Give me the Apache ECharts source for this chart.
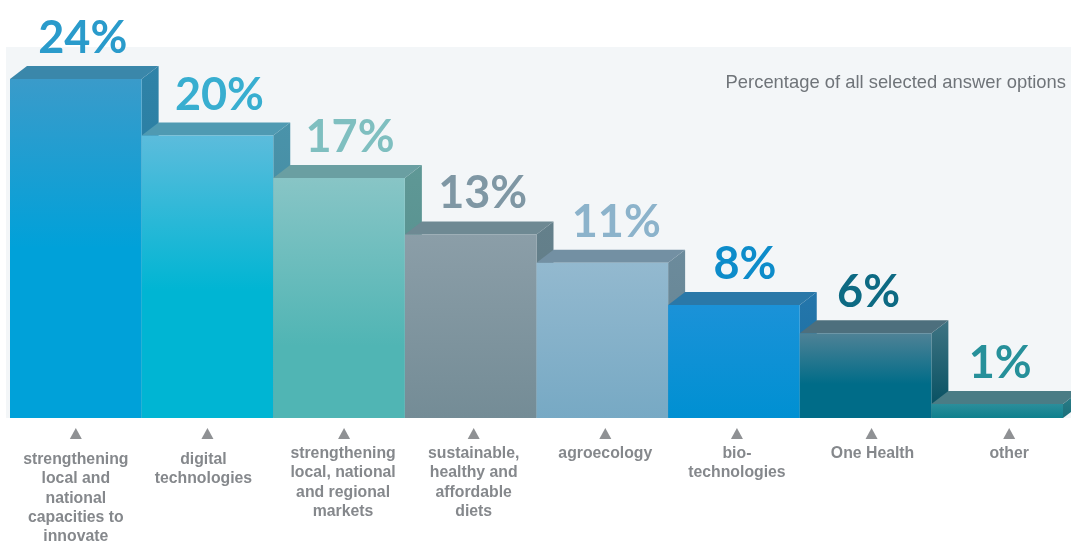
<!DOCTYPE html>
<html><head><meta charset="utf-8">
<style>html,body{margin:0;padding:0;background:#fff}#c{width:1071px;height:543px}</style>
<script src="https://cdn.jsdelivr.net/npm/echarts@6/dist/echarts.min.js"></script>
</head><body><div id="c"></div>
<script>
const categories = ['strengthening\nlocal and\nnational\ncapacities to\ninnovate','digital\ntechnologies','strengthening\nlocal, national\nand regional\nmarkets','sustainable,\nhealthy and\naffordable\ndiets','agroecology','bio-\ntechnologies','One Health','other'];
const values = [24,20,17,13,11,8,6,1];
const note = 'Percentage of all selected answer options';

// styling, kept apart from the data
const frontTop = ['#3a9bca','#5cbcdc','#88c5c6','#8b9ea8','#93b9cf','#1b92d8','#4f8296','#2b8e9b'];
const frontBot = ['#00a1d9','#00b5d3','#50b5b4','#748c96','#77a9c4','#0090d2','#006c88','#0f808d'];
const gradStop = [0.5,0.55,0.7,1,1,1,0.6,1];
const topFace  = ['#3a87aa','#4f9ab2','#6a9fa2','#6e8993','#7390a3','#2a78a8','#4d6f7d','#4a7c85'];
const sideTop  = ['#2f83a8','#4a93aa','#5f9896','#64808b','#6c8b9c','#2476ab','#3f7483','#2f7f8a'];
const sideBot  = ['#1f7296','#3d8398','#4f8a88','#607a85','#64838f','#1a6da0','#004c5e','#1a6f7a'];
const textCol  = ['#2a9bcb','#38aed0','#7fbfc0','#7f97a4','#8cb3cb','#0d8cca','#0d6a83','#26909a'];
const valDx = [7,12,11,12,14,11,3,3];       // value label nudge from the bar centre
const tickDx = [0,0,5,3,3,3,6,12];          // marker nudge
const labDx = [0,-4,4,3,3,3,7,12];          // category label nudge
const labY = [450,450,444,444,444,444,444,444]; // top of each category label
const depthX = 17, depthY = 13;

function renderBar(params, api) {
  const i = params.dataIndex;
  const p = api.coord([i, api.value(1)]);
  const base = api.coord([i, 0]);
  const w = api.size([1, 0])[0];
  const l = p[0] - w / 2, r = p[0] + w / 2, t = p[1], b = base[1];
  const grad = (a, c, s) => new echarts.graphic.LinearGradient(0, 0, 0, 1, [{offset:0,color:a},{offset:s,color:c},{offset:1,color:c}]);
  return { type: 'group', children: [
    { type:'polygon', shape:{points:[[r,t],[r+depthX,t-depthY],[r+depthX,b-depthY],[r,b]]}, style:{fill:grad(sideTop[i],sideBot[i],1)} },
    { type:'polygon', shape:{points:[[l,t],[l+depthX,t-depthY],[r+depthX,t-depthY],[r,t]]}, style:{fill:topFace[i]} },
    { type:'rect', shape:{x:l,y:t,width:w,height:b-t}, style:{fill:grad(frontTop[i],frontBot[i],gradStop[i])} },
    { type:'text', style:{ text: values[i] + '%', x:p[0]+valDx[i], y:t-depthY-5, align:'center', verticalAlign:'bottom',
        font:'bold 45px Lato', fill:textCol[i] } },
    { type:'polygon', shape:{points:[[p[0]+tickDx[i]-6,b+21],[p[0]+tickDx[i]+6,b+21],[p[0]+tickDx[i],b+10]]}, style:{fill:'#8f9194'} },
    { type:'text', style:{ text: categories[i], x:p[0]+labDx[i], y:labY[i], align:'center', verticalAlign:'top',
        font:'bold 15.8px "Liberation Sans"', lineHeight:19.3, fill:'#85888c' } }
  ]};
}

const chart = echarts.init(document.getElementById('c'), null, {renderer:'canvas'});
chart.setOption({
  animation:false,
  backgroundColor:'#fff',
  graphic:[
    {type:'rect', z:-1, silent:true, shape:{x:6,y:47,width:1065,height:371}, style:{fill:'#f3f6f8'}},
    {type:'text', z:5, silent:true, style:{text:note, x:1066, y:83, align:'right', verticalAlign:'middle', font:'18.4px "Liberation Sans"', fill:'#6f7479'}}
  ],
  grid:{left:10, right:8, top:79, bottom:125, containLabel:false},
  xAxis:{type:'category', data:categories, show:false, boundaryGap:true},
  yAxis:{type:'value', min:0, max:24, show:false},
  series:[{type:'custom', renderItem:renderBar, clip:false, encode:{x:0,y:1},
    data:values.map((v,i)=>[i,v])}]
});
</script></body></html>
